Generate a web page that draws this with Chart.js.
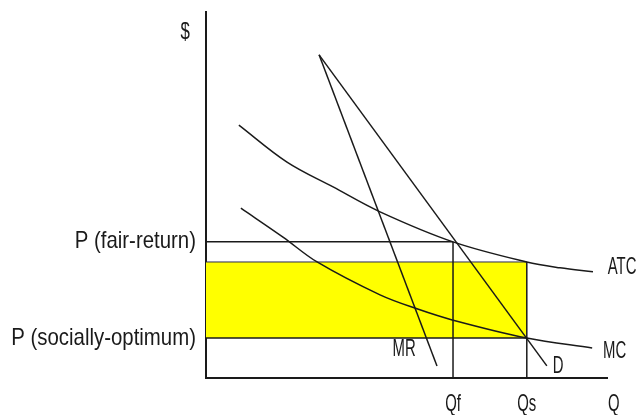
<!DOCTYPE html>
<html>
<head>
<meta charset="utf-8">
<script src="https://cdn.jsdelivr.net/npm/chart.js@4"></script>
<style>
  body { margin: 0; background: #fff; }
  #wrap { width: 640px; height: 415px; }
</style>
</head>
<body>
<div id="wrap"><canvas id="econChart"></canvas></div>
<script>
// values (axis units: Q and $ both run 0..100)
const demandQ = [28.2, 85.0];
const demandP = [88.3, 3.3];
const mrQ = [28.2, 57.6];
const mrP = [88.3, 3.3];
const atcQ = [8.2, 20.2, 31.7, 43.4, 61.6, 80.0, 88.3, 96.5];
const atcP = [69.1, 59.0, 52.2, 45.4, 37.2, 31.7, 30.1, 29.0];
const mcQ = [8.7, 19.2, 27.7, 43.4, 52.6, 61.6, 80.0, 96.3];
const mcP = [46.4, 38.5, 31.7, 22.7, 18.9, 15.8, 10.9, 8.2];

const qFair = 61.6;      // Qf
const qSocial = 80.0;    // Qs
const pFair = 37.2;      // P (fair-return)
const pSocial = 10.9;    // P (socially-optimum)
const pBoxTop = 31.7;    // top of the yellow box (ATC at Qs)

const priceTicks = [pFair, pSocial];
const priceTickLabels = ['P (fair-return)', 'P (socially-optimum)'];
const qtyTicks = [qFair, qSocial, 101.7];
const qtyTickLabels = ['Qf', 'Qs', 'Q'];
const curveLabels = ['MR', 'D', 'ATC', 'MC'];
const curveLabelQ = [49.4, 87.8, 100.2, 99.0];
const curveLabelP = [7.7, 3.3, 30.1, 7.4];

const toPts = (xs, ys) => xs.map((v, i) => ({ x: v, y: ys[i] }));

const ink = '#1a1a1a';
const lineSet = (data, extra) => Object.assign({
    data: data,
    showLine: true,
    borderColor: ink,
    borderWidth: 1.5,
    pointRadius: 0,
    fill: false,
    order: 0
}, extra || {});

// labels drawn on the canvas, squeezed sideways like the original narrow font
const labelPlugin = {
    id: 'econLabels',
    afterDraw(chart) {
        const { ctx, scales: { x, y } } = chart;
        const put = (text, q, p, align, squeeze) => {
            ctx.save();
            ctx.translate(x.getPixelForValue(q), y.getPixelForValue(p));
            ctx.scale(squeeze, 1);
            ctx.font = '24px "Liberation Sans", Arial, sans-serif';
            ctx.fillStyle = ink;
            ctx.textAlign = align;
            ctx.textBaseline = 'middle';
            ctx.fillText(text, 0, 0);
            ctx.restore();
        };
        put('$', -5.2, 94.5, 'center', 0.7);
        priceTicks.forEach((p, i) => put(priceTickLabels[i], -2.5, p, 'right', 0.85));
        qtyTicks.forEach((q, i) => put(qtyTickLabels[i], q, -7.1, 'center', 0.62));
        curveLabels.forEach((t, i) => put(t, curveLabelQ[i], curveLabelP[i], t === 'ATC' || t === 'MC' ? 'left' : 'center', 0.62));
    }
};

new Chart(document.getElementById('econChart').getContext('2d'), {
    type: 'scatter',
    data: {
        datasets: [
            // yellow box between the two prices, out to Qs
            {
                data: [{ x: 0, y: pBoxTop }, { x: qSocial, y: pBoxTop }],
                showLine: true,
                borderColor: '#2a2a55',
                borderWidth: 1,
                backgroundColor: '#ffff00',
                pointRadius: 0,
                fill: { value: pSocial },
                order: 10
            },
            lineSet([{ x: 0, y: pFair }, { x: qFair, y: pFair }]),
            lineSet([{ x: 0, y: pSocial }, { x: qSocial, y: pSocial }]),
            lineSet([{ x: qFair, y: 0 }, { x: qFair, y: pFair }]),
            lineSet([{ x: qSocial, y: 0 }, { x: qSocial, y: pBoxTop }]),
            lineSet(toPts(demandQ, demandP)),
            lineSet(toPts(mrQ, mrP)),
            lineSet(toPts(atcQ, atcP), { tension: 0.35 }),
            lineSet(toPts(mcQ, mcP), { tension: 0.35 })
        ]
    },
    options: {
        responsive: true,
        maintainAspectRatio: false,
        animation: false,
        events: [],
        layout: { padding: { left: 206, right: 33, top: 12, bottom: 37 } },
        plugins: {
            legend: { display: false },
            tooltip: { enabled: false }
        },
        scales: {
            x: {
                type: 'linear',
                min: 0,
                max: 100,
                grid: { display: false },
                ticks: { display: false },
                border: { display: true, color: ink, width: 2 },
                afterFit: (s) => { s.height = 0; }
            },
            y: {
                type: 'linear',
                min: 0,
                max: 100,
                grid: { display: false },
                ticks: { display: false },
                border: { display: true, color: ink, width: 2 },
                afterFit: (s) => { s.width = 0; }
            }
        }
    },
    plugins: [labelPlugin]
});
</script>
</body>
</html>
